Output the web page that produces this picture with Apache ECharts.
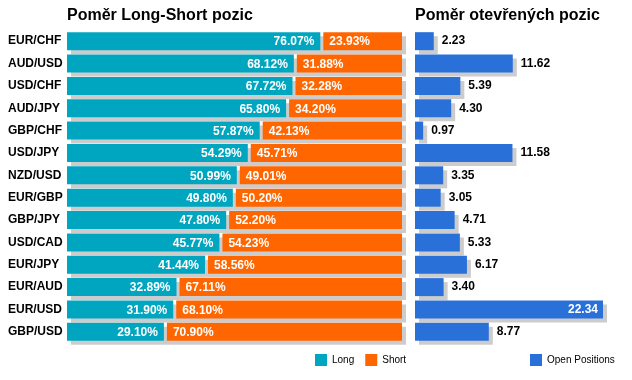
<!DOCTYPE html>
<html>
<head>
<meta charset="utf-8">
<script src="https://cdn.jsdelivr.net/npm/echarts@6/dist/echarts.min.js"></script>
<style>html,body{margin:0;padding:0;background:#fff}#c{width:632px;height:380px}</style>
</head>
<body>
<div id="c"></div>
<script>
const pairs = ['EUR/CHF','AUD/USD','USD/CHF','AUD/JPY','GBP/CHF','USD/JPY','NZD/USD','EUR/GBP','GBP/JPY','USD/CAD','EUR/JPY','EUR/AUD','EUR/USD','GBP/USD'];
const longPct = [76.07, 68.12, 67.72, 65.80, 57.87, 54.29, 50.99, 49.80, 47.80, 45.77, 41.44, 32.89, 31.90, 29.10];
const shortPct = [23.93, 31.88, 32.28, 34.20, 42.13, 45.71, 49.01, 50.20, 52.20, 54.23, 58.56, 67.11, 68.10, 70.90];
const openPos = [2.23, 11.62, 5.39, 4.30, 0.97, 11.58, 3.35, 3.05, 4.71, 5.33, 6.17, 3.40, 22.34, 8.77];

const LONG = '#00A6C0', SHORT = '#FF6600', OPEN = '#2970D9', SHADOW = '#CCCCCC';
const FONT = '"Liberation Sans", Arial, sans-serif';
const BH = 18, SX = 4, SY = 4;

const chart = echarts.init(document.getElementById('c'), null, {renderer: 'canvas'});

function renderLong(params, api) {
  const cat = api.value(1);
  const p0 = api.coord([0, cat]);
  const p1 = api.coord([api.value(0), cat]);
  const pEnd = api.coord([api.value(0) + api.value(2), cat]);
  const y = p0[1] - BH / 2;
  return {type: 'group', children: [
    {type: 'rect', shape: {x: p0[0] + SX, y: y + SY, width: pEnd[0] + 2 - p0[0], height: BH}, style: {fill: SHADOW}},
    {type: 'rect', shape: {x: p0[0], y: y, width: p1[0] - p0[0], height: BH}, style: {fill: LONG}},
    {type: 'text', x: p1[0] - 6, y: p0[1] + 1, style: {text: api.value(0).toFixed(2) + '%', fill: '#fff', fontSize: 12, fontWeight: 'bold', fontFamily: FONT, align: 'right', verticalAlign: 'middle'}}
  ]};
}
function renderShort(params, api) {
  const cat = api.value(1);
  const s0 = api.coord([api.value(2), cat]);
  const s1 = api.coord([api.value(2) + api.value(0), cat]);
  const y = s0[1] - BH / 2;
  const x0 = s0[0] + 3;
  return {type: 'group', children: [
    {type: 'rect', shape: {x: x0, y: y, width: s1[0] + 2 - x0, height: BH}, style: {fill: SHORT}},
    {type: 'text', x: x0 + 6, y: s0[1] + 1, style: {text: api.value(0).toFixed(2) + '%', fill: '#fff', fontSize: 12, fontWeight: 'bold', fontFamily: FONT, align: 'left', verticalAlign: 'middle'}}
  ]};
}

const maxOpen = Math.max.apply(null, openPos);
const openData = openPos.map(v => v === maxOpen ? {
  value: v,
  label: {position: 'insideRight', distance: 5, color: '#fff'}
} : v);

const legendCommon = {
  top: 354, itemWidth: 12, itemHeight: 12, itemGap: 11, padding: 0, icon: 'rect',
  textStyle: {fontSize: 10, color: '#000', fontFamily: FONT},
  itemStyle: {shadowBlur: 0, shadowOffsetX: 0, shadowOffsetY: 0, shadowColor: 'transparent'}
};

chart.setOption({
  animation: false,
  backgroundColor: '#fff',
  title: [
    {text: 'Poměr Long-Short pozic', left: 67, top: 8, padding: 0, textStyle: {fontSize: 16, fontWeight: 'bold', color: '#000', fontFamily: FONT}},
    {text: 'Poměr otevřených pozic', left: 415, top: 8, padding: 0, textStyle: {fontSize: 16, fontWeight: 'bold', color: '#000', fontFamily: FONT}}
  ],
  legend: [
    Object.assign({}, legendCommon, {left: 315, data: ['Long', 'Short']}),
    Object.assign({}, legendCommon, {left: 530, data: ['Open Positions']})
  ],
  grid: [
    {left: 67, right: 232, top: 30, bottom: 37},
    {left: 415, right: 29, top: 30, bottom: 37}
  ],
  xAxis: [
    {gridIndex: 0, type: 'value', min: 0, max: 100, show: false},
    {gridIndex: 1, type: 'value', min: 0, max: function (v) { return v.max; }, show: false}
  ],
  yAxis: [
    {gridIndex: 0, type: 'category', data: pairs, inverse: true,
     axisLine: {show: false}, axisTick: {show: false}, splitLine: {show: false},
     axisLabel: {align: 'left', margin: 59, fontSize: 12, fontWeight: 'bold', color: '#000', fontFamily: FONT}},
    {gridIndex: 1, type: 'category', data: pairs, inverse: true,
     axisLine: {show: false}, axisTick: {show: false}, splitLine: {show: false}, axisLabel: {show: false}}
  ],
  series: [
    {name: 'Long', type: 'custom', xAxisIndex: 0, yAxisIndex: 0, itemStyle: {color: LONG},
     encode: {x: 0, y: 1}, renderItem: renderLong,
     data: pairs.map((p, i) => [longPct[i], p, shortPct[i]])},
    {name: 'Short', type: 'custom', xAxisIndex: 0, yAxisIndex: 0, itemStyle: {color: SHORT},
     encode: {x: 0, y: 1}, renderItem: renderShort,
     data: pairs.map((p, i) => [shortPct[i], p, longPct[i]])},
    {name: 'Open Positions', type: 'bar', xAxisIndex: 1, yAxisIndex: 1, barWidth: BH,
     itemStyle: {color: OPEN, shadowColor: SHADOW, shadowBlur: 0, shadowOffsetX: SX, shadowOffsetY: SY},
     label: {show: true, position: 'right', distance: 8, color: '#000', fontSize: 12, fontWeight: 'bold', fontFamily: FONT,
             formatter: p => p.value.toFixed(2)},
     data: openData}
  ]
});
</script>
</body>
</html>
